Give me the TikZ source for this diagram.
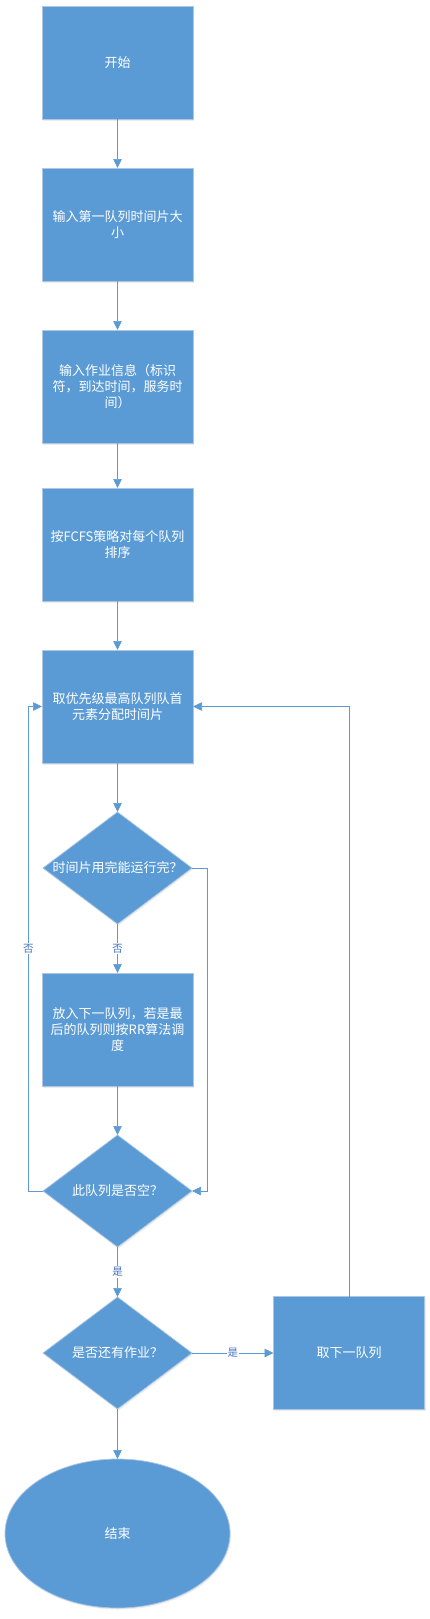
\documentclass[tikz,border=0pt]{standalone}
\usepackage{fontspec}
\setmainfont{Noto Sans CJK SC}
\usetikzlibrary{positioning,shapes.geometric,arrows.meta,shadows}
\definecolor{fillblue}{RGB}{91,155,213}
\definecolor{edgeblue}{RGB}{175,198,226}
\definecolor{tagblue}{RGB}{68,114,196}
\begin{document}
\begin{tikzpicture}[x=1pt,y=1pt,
	every node/.style={text=white,font=\fontsize{13}{16}\selectfont,align=center},
	base/.style={fill=fillblue,draw=edgeblue,line width=0.75pt,outer sep=0pt,
	drop shadow={opacity=0.15,shadow xshift=1pt,shadow yshift=-1.5pt}},
	proc/.style={base,rectangle,minimum width=151pt,minimum height=113pt,inner sep=0pt},
	test/.style={base,diamond,minimum width=149pt,minimum height=112pt,inner sep=0pt},
	term/.style={base,ellipse,minimum width=225pt,minimum height=149pt},
	flow/.style={draw=fillblue,line width=0.7pt,-{Triangle[length=9pt,width=8.5pt]}},
	yn/.style={fill=white,text=tagblue,font=\fontsize{10.5}{11}\selectfont,inner sep=1pt}]
\useasboundingbox (0,0) rectangle (430,-1619);
\node[proc] (start) at (117.5,-62.5) {开始};
\node[proc,below=49pt of start] (qsize) {输入第一队列时间片大\\小};
\node[proc,below=49pt of qsize] (jobs) {输入作业信息（标识\\符，到达时间，服务时\\间）};
\node[proc,below=45pt of jobs] (sort) {按FCFS策略对每个队列\\排序};
\node[proc,below=49pt of sort] (pick) {取优先级最高队列队首\\元素分配时间片};
\node[test,below=49pt of pick,label={center:时间片用完能运行完？}] (done) {};
\node[proc,below=49pt of done] (demote) {放入下一队列，若是最\\后的队列则按RR算法调\\度};
\node[test,below=49pt of demote,label={center:此队列是否空？}] (empty) {};
\node[test,below=50pt of empty,label={center:是否还有作业？}] (more) {};
\node[proc,right=81.5pt of more] (next) {取下一队列};
\node[term,below=50pt of more] (stop) {结束};
\draw[flow] (start) -- (qsize);
\draw[flow] (qsize) -- (jobs);
\draw[flow] (jobs) -- (sort);
\draw[flow] (sort) -- (pick);
\draw[flow] (pick) -- (done);
\draw[flow] (done) -- node[yn] {否} (demote);
\draw[flow] (demote) -- (empty);
\draw[flow] (empty) -- node[yn] {是} (more);
\draw[flow] (more) -- node[yn] {是} (next);
\draw[flow] (more) -- (stop);
\draw[flow] (done.east) -- ++(15,0) |- (empty.east);
\draw[flow] (empty.west) -- ++(-14.5,0) |- node[yn,pos=0.25] {否} (pick.west);
\draw[flow] (next.north) |- (pick.east);
\end{tikzpicture}
\end{document}
